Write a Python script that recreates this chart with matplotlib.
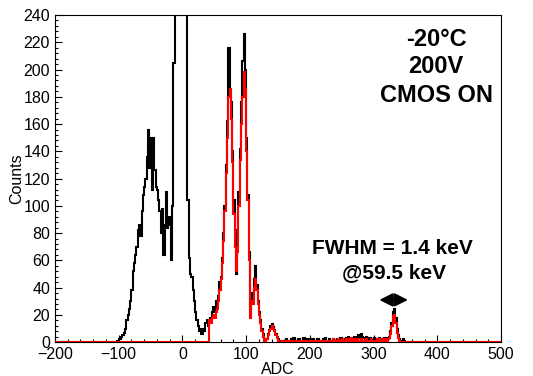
import numpy as np
import matplotlib
matplotlib.use("Agg")
import matplotlib.pyplot as plt
from matplotlib.ticker import MultipleLocator

# Histogram range and bin width (ADC)
X_MIN, X_MAX, BIN_W = -200, 500, 2

# Black spectrum, bins of 2 ADC starting at -106
black_start = -106
black_counts = [
    0, 0, 1, 2, 2, 4, 5, 7, 10, 16,
    20, 24, 30, 38, 52, 58, 64, 70, 82, 86,
    78, 96, 108, 114, 120, 136, 156, 128, 150, 112,
    150, 126, 114, 112, 104, 96, 80, 98, 64, 86,
    110, 84, 92, 86, 60, 100, 205, 420, 950, 1600,
    2100, 2300, 2050, 1500, 900, 480, 250, 104, 62, 50,
    48, 38, 30, 22, 16, 12, 8, 10, 6, 10,
    8, 14, 16, 12, 16, 18, 22, 26, 22, 30,
    28, 34, 44, 48, 62, 80, 100, 130, 162, 216,
    186, 176, 140, 104, 82, 50, 74, 110, 142, 176,
    206, 226, 200, 150, 108, 66, 24, 36, 32, 46,
    56, 42, 30, 22, 16, 10, 6, 2, 1, 2,
    6, 9, 12, 13, 11, 9, 6, 4, 2, 1,
    1, 0, 1, 0, 2, 1, 0, 1, 2, 1,
    3, 1, 0, 1, 2, 0, 1, 1, 3, 0,
    1, 2, 1, 0, 1, 2, 1, 0, 1, 2,
    1, 0, 1, 2, 1, 3, 1, 0, 2, 1,
    1, 2, 0, 1, 2, 1, 2, 3, 1, 2,
    1, 3, 2, 4, 2, 3, 1, 2, 4, 3,
    2, 5, 3, 6, 4, 3, 2, 4, 3, 2,
    3, 1, 2, 3, 2, 1, 2, 3, 2, 1,
    2, 3, 2, 3, 2, 4, 8, 14, 22, 24,
    18, 10, 5, 2, 1, 1, 2, 1, 0,
]

# Red spectrum, bins of 2 ADC starting at 42
red_start = 42
red_counts = [
    16, 14, 18, 20, 18, 22, 24, 30, 38, 46,
    58, 74, 96, 124, 150, 180, 186, 164, 132, 94,
    70, 52, 66, 100, 134, 160, 180, 198, 186, 140,
    104, 60, 18, 30, 28, 40, 46, 38, 28, 20,
    14, 8, 4, 1, 0, 2, 5, 8, 10, 12,
    10, 8, 5, 3, 1, 0, 0, 1, 0, 0,
    1, 0, 0, 1, 0, 1, 0, 0, 1, 0,
    0, 1, 0, 0, 1, 0, 1, 0, 0, 1,
    0, 1, 0, 0, 1, 0, 1, 1, 0, 1,
    0, 1, 0, 1, 1, 0, 1, 2, 1, 0,
    1, 2, 1, 1, 2, 1, 0, 2, 1, 2,
    1, 3, 2, 1, 2, 1, 2, 1, 1, 2,
    1, 0, 1, 2, 1, 0, 1, 2, 1, 1,
    0, 1, 2,
    1, 2, 1, 2, 1, 2, 1, 2, 3, 6,
    12, 19, 20, 14, 7, 3, 1, 0,
]

text_lines = ["-20°C", "200V", "CMOS ON"]


def full_hist(start, counts):
    edges = np.arange(X_MIN, X_MAX + BIN_W, BIN_W)
    vals = np.zeros(len(edges) - 1)
    i0 = (start - X_MIN) // BIN_W
    vals[i0:i0 + len(counts)] = counts
    return edges, np.minimum(vals, 240)


plt.rcParams["font.family"] = ["Liberation Sans", "DejaVu Sans"]

fig = plt.figure(figsize=(5.33, 3.76), dpi=100)
ax = fig.add_axes([0.103, 0.09, 0.837, 0.87])

edges, vals = full_hist(black_start, black_counts)
ax.stairs(vals, edges, color="black", lw=1.5, zorder=2)
edges, vals = full_hist(red_start, red_counts)
ax.stairs(vals, edges, color="red", lw=1.5, zorder=3)

ax.set_xlim(X_MIN, X_MAX)
ax.set_ylim(0, 240)
ax.xaxis.set_major_locator(MultipleLocator(100))
ax.xaxis.set_minor_locator(MultipleLocator(20))
ax.yaxis.set_major_locator(MultipleLocator(20))
ax.yaxis.set_minor_locator(MultipleLocator(4))
ax.tick_params(which="both", direction="in", top=False, right=False, labelsize=11.5)
ax.tick_params(which="major", length=5, width=0.8)
ax.tick_params(which="minor", length=2.5, width=0.8)
ax.set_xlabel("ADC", fontsize=11.5, labelpad=0)
ax.set_ylabel("Counts", fontsize=11.5, labelpad=-1)

for txt, yv in zip(text_lines, [222, 202, 181]):
    ax.text(398, yv, txt, ha="center", va="center", fontsize=17, fontweight="bold")
ax.text(330, 69, "FWHM = 1.4 keV", ha="center", va="center", fontsize=15, fontweight="bold")
ax.text(332, 51, "@59.5 keV", ha="center", va="center", fontsize=15, fontweight="bold")

ax.annotate("", xy=(309, 31), xytext=(354, 31),
            arrowprops=dict(arrowstyle="<|-|>", color="black", lw=1.5,
                            mutation_scale=20, shrinkA=0, shrinkB=0))

fig.savefig("out.png", dpi=100)
